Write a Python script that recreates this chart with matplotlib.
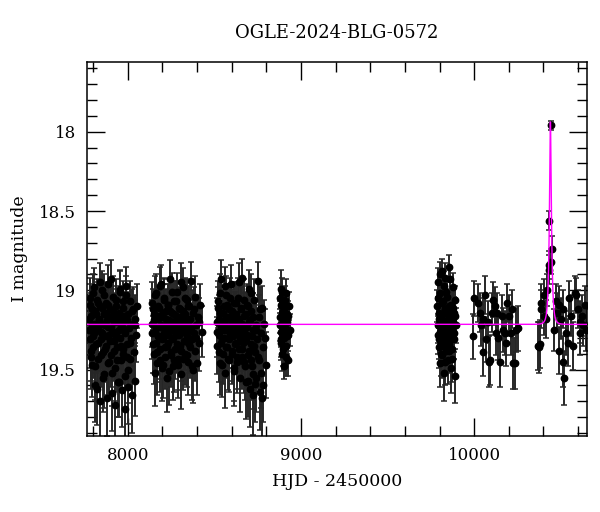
import numpy as np
import matplotlib
matplotlib.use("Agg")
import matplotlib.pyplot as plt
from matplotlib.ticker import MultipleLocator

plt.rcParams['font.family'] = ['DejaVu Serif']

title = "OGLE-2024-BLG-0572"

# season 1
t1 = [7776, 7780, 7783, 7788, 7791, 7795, 7800, 7803, 7807, 7812,
      7815, 7819, 7824, 7827, 7831, 7836, 7839, 7843, 7848, 7851,
      7855, 7860, 7863, 7867, 7872, 7875, 7879, 7884, 7887, 7891,
      7896, 7899, 7903, 7908, 7911, 7915, 7920, 7923, 7927, 7932,
      7935, 7939, 7944, 7947, 7951, 7956, 7959, 7963, 7968, 7971,
      7975, 7980, 7983, 7987, 7992, 7995, 7999, 8004, 8007, 8011,
      8016, 8019, 8023, 8028, 8031, 8035, 8040, 8044, 8049, 8055,
      7778, 7782, 7786, 7790, 7793, 7798, 7802, 7805, 7810, 7814,
      7817, 7822, 7826, 7829, 7834, 7838, 7841, 7846, 7850, 7853,
      7858, 7862, 7865, 7870, 7874, 7877, 7882, 7886, 7889, 7894,
      7898, 7901, 7906, 7910, 7913, 7918, 7922, 7925, 7930, 7934,
      7937, 7942, 7946, 7949, 7954, 7958, 7961, 7966, 7970, 7973,
      7978, 7982, 7985, 7990, 7994, 7997, 8002, 8013, 8026, 8042]
m1 = [19.18, 19.31, 19.05, 19.42, 19.22, 19.12, 19.36, 18.98, 19.27, 19.48,
      19.15, 19.24, 19.62, 19.08, 19.33, 19.19, 18.95, 19.41, 19.26, 19.11,
      19.55, 19.21, 19.03, 19.37, 19.29, 19.14, 19.68, 19.23, 19.09, 19.45,
      19.17, 19.32, 18.93, 19.26, 19.52, 19.13, 19.38, 19.20, 19.72, 19.06,
      19.29, 19.44, 19.16, 19.58, 19.25, 19.01, 19.35, 19.22, 19.63, 19.11,
      19.40, 19.19, 19.75, 19.27, 18.97, 19.34, 19.50, 19.15, 19.24, 19.43,
      19.07, 19.30, 19.66, 19.21, 19.12, 19.39, 19.57, 19.18, 19.28, 19.10,
      19.25, 19.09, 19.38, 19.16, 19.47, 19.02, 19.29, 19.21, 19.60, 19.13,
      19.34, 19.06, 19.24, 19.43, 19.18, 19.70, 19.10, 19.31, 19.27, 19.00,
      19.39, 19.15, 19.53, 19.22, 19.08, 19.35, 19.19, 19.46, 18.96, 19.28,
      19.12, 19.41, 19.23, 19.65, 19.04, 19.32, 19.17, 19.49, 19.26, 19.10,
      19.36, 19.20, 19.58, 19.14, 18.99, 19.30, 19.44, 19.23, 19.07, 19.37,
      19.16, 19.54, 19.25, 19.03, 19.42, 19.19, 19.61, 19.33, 19.13, 19.22]
e1 = [0.15, 0.18, 0.13, 0.20, 0.16, 0.14, 0.19, 0.12, 0.17, 0.21,
      0.14, 0.16, 0.23, 0.13, 0.18, 0.15, 0.12, 0.20, 0.17, 0.14,
      0.22, 0.16, 0.13, 0.19, 0.17, 0.14, 0.24, 0.16, 0.13, 0.20,
      0.15, 0.18, 0.12, 0.17, 0.21, 0.14, 0.19, 0.15, 0.25, 0.13,
      0.17, 0.20, 0.15, 0.22, 0.16, 0.13, 0.19, 0.16, 0.23, 0.14,
      0.19, 0.15, 0.25, 0.17, 0.12, 0.18, 0.21, 0.14, 0.16, 0.20,
      0.13, 0.18, 0.24, 0.16, 0.14, 0.19, 0.22, 0.15, 0.17, 0.14,
      0.16, 0.13, 0.19, 0.14, 0.20, 0.12, 0.17, 0.16, 0.23, 0.14,
      0.18, 0.13, 0.16, 0.20, 0.15, 0.25, 0.13, 0.18, 0.17, 0.12,
      0.19, 0.14, 0.21, 0.16, 0.13, 0.19, 0.15, 0.20, 0.12, 0.17,
      0.14, 0.20, 0.16, 0.24, 0.13, 0.18, 0.15, 0.21, 0.17, 0.13,
      0.19, 0.15, 0.22, 0.14, 0.12, 0.18, 0.20, 0.16, 0.13, 0.19,
      0.15, 0.21, 0.16, 0.12, 0.20, 0.15, 0.23, 0.18, 0.14, 0.16]

# season 2
t2 = [8140, 8143, 8148, 8151, 8155, 8160, 8163, 8167, 8172, 8175,
      8179, 8184, 8187, 8191, 8196, 8199, 8203, 8208, 8211, 8215,
      8220, 8223, 8227, 8232, 8235, 8239, 8244, 8247, 8251, 8256,
      8259, 8263, 8268, 8271, 8275, 8280, 8283, 8287, 8292, 8295,
      8299, 8304, 8307, 8311, 8316, 8319, 8323, 8328, 8331, 8335,
      8340, 8343, 8347, 8352, 8355, 8359, 8364, 8367, 8371, 8376,
      8379, 8383, 8388, 8391, 8395, 8400, 8404, 8410, 8418, 8427,
      8141, 8146, 8150, 8153, 8158, 8162, 8165, 8170, 8174, 8177,
      8182, 8186, 8189, 8194, 8198, 8201, 8206, 8210, 8213, 8218,
      8222, 8225, 8230, 8234, 8237, 8242, 8246, 8249, 8254, 8258,
      8261, 8266, 8270, 8273, 8278, 8282, 8285, 8290, 8294, 8297,
      8302, 8306, 8309, 8314, 8318, 8321, 8326, 8330, 8333, 8338,
      8342, 8345, 8350, 8354, 8357, 8362, 8369, 8381, 8397, 8414]
m2 = [19.21, 19.08, 19.34, 19.15, 19.52, 19.26, 19.02, 19.39, 19.18, 19.29,
      19.11, 19.44, 19.23, 18.96, 19.31, 19.17, 19.47, 19.05, 19.27, 19.36,
      19.13, 19.22, 19.55, 19.09, 19.33, 19.19, 18.93, 19.41, 19.25, 19.14,
      19.30, 19.48, 19.07, 19.24, 19.37, 19.16, 19.01, 19.28, 19.43, 19.20,
      19.12, 19.35, 19.53, 19.18, 19.26, 18.98, 19.32, 19.15, 19.40, 19.23,
      19.06, 19.29, 19.45, 19.19, 19.10, 19.36, 19.24, 18.94, 19.31, 19.50,
      19.14, 19.27, 19.38, 19.04, 19.22, 19.46, 19.17, 19.33, 19.09, 19.26,
      19.27, 19.12, 19.40, 19.19, 19.03, 19.33, 19.24, 19.46, 19.10, 19.29,
      19.16, 19.37, 18.97, 19.22, 19.49, 19.14, 19.30, 19.06, 19.25, 19.42,
      19.18, 19.35, 19.09, 19.28, 19.51, 19.13, 19.23, 19.39, 19.01, 19.31,
      19.20, 19.44, 19.15, 19.26, 19.07, 19.34, 19.21, 19.47, 19.11, 19.28,
      19.17, 18.95, 19.38, 19.24, 19.13, 19.43, 19.19, 19.32, 19.05, 19.27,
      19.22, 19.41, 19.10, 19.34, 19.18, 19.25, 19.48, 19.12, 19.30, 19.20]
e2 = [0.15, 0.13, 0.18, 0.14, 0.21, 0.16, 0.12, 0.19, 0.15, 0.17,
      0.13, 0.20, 0.16, 0.12, 0.18, 0.14, 0.21, 0.13, 0.16, 0.19,
      0.14, 0.15, 0.22, 0.13, 0.18, 0.15, 0.12, 0.20, 0.16, 0.14,
      0.17, 0.21, 0.13, 0.16, 0.19, 0.14, 0.12, 0.17, 0.20, 0.15,
      0.13, 0.18, 0.22, 0.15, 0.16, 0.12, 0.18, 0.14, 0.20, 0.16,
      0.13, 0.17, 0.21, 0.15, 0.13, 0.19, 0.16, 0.12, 0.18, 0.21,
      0.14, 0.17, 0.19, 0.13, 0.15, 0.20, 0.14, 0.18, 0.13, 0.16,
      0.16, 0.13, 0.19, 0.15, 0.12, 0.18, 0.16, 0.20, 0.13, 0.17,
      0.14, 0.19, 0.12, 0.15, 0.21, 0.14, 0.17, 0.13, 0.16, 0.20,
      0.15, 0.18, 0.13, 0.17, 0.21, 0.14, 0.16, 0.19, 0.12, 0.18,
      0.15, 0.20, 0.14, 0.16, 0.13, 0.18, 0.15, 0.21, 0.13, 0.17,
      0.14, 0.12, 0.19, 0.16, 0.14, 0.20, 0.15, 0.18, 0.13, 0.17,
      0.15, 0.20, 0.13, 0.18, 0.15, 0.16, 0.21, 0.14, 0.17, 0.15]

# season 3
t3 = [8515, 8518, 8522, 8527, 8530, 8534, 8539, 8542, 8546, 8551,
      8554, 8558, 8563, 8566, 8570, 8575, 8578, 8582, 8587, 8590,
      8594, 8599, 8602, 8606, 8611, 8614, 8618, 8623, 8626, 8630,
      8635, 8638, 8642, 8647, 8650, 8654, 8659, 8662, 8666, 8671,
      8674, 8678, 8683, 8686, 8690, 8695, 8698, 8702, 8707, 8710,
      8714, 8719, 8722, 8726, 8731, 8734, 8738, 8743, 8746, 8750,
      8755, 8758, 8762, 8767, 8770, 8774, 8779, 8783, 8789, 8796,
      8516, 8520, 8525, 8529, 8532, 8537, 8541, 8544, 8549, 8553,
      8556, 8561, 8565, 8568, 8573, 8577, 8580, 8585, 8589, 8592,
      8597, 8601, 8604, 8609, 8613, 8616, 8621, 8625, 8628, 8633,
      8637, 8640, 8645, 8649, 8652, 8657, 8661, 8664, 8669, 8673,
      8676, 8681, 8685, 8688, 8693, 8697, 8700, 8705, 8709, 8712,
      8717, 8721, 8724, 8729, 8733, 8741, 8752, 8764, 8777, 8792]
m3 = [19.20, 19.35, 19.07, 19.28, 19.46, 19.14, 18.93, 19.31, 19.22, 19.40,
      19.10, 19.25, 19.52, 19.17, 19.03, 19.36, 19.23, 19.44, 19.12, 19.29,
      19.19, 18.96, 19.38, 19.26, 19.08, 19.49, 19.21, 19.33, 19.15, 19.42,
      19.05, 19.27, 19.18, 19.55, 19.30, 19.11, 18.92, 19.37, 19.24, 19.45,
      19.16, 19.32, 19.58, 19.09, 19.28, 19.41, 19.20, 18.99, 19.62, 19.34,
      19.13, 19.48, 19.25, 19.66, 19.06, 19.39, 19.22, 19.55, 19.31, 18.94,
      19.44, 19.17, 19.64, 19.27, 19.52, 19.11, 19.60, 19.36, 19.21, 19.47,
      19.26, 19.11, 19.39, 19.18, 19.02, 19.33, 19.23, 19.47, 19.14, 19.30,
      19.20, 18.97, 19.36, 19.25, 19.09, 19.43, 19.17, 19.31, 19.05, 19.27,
      19.22, 19.40, 19.13, 19.29, 19.51, 19.16, 19.34, 19.08, 19.24, 19.45,
      19.19, 19.37, 18.95, 19.28, 19.12, 19.42, 19.21, 19.33, 19.06, 19.26,
      19.48, 19.15, 19.31, 19.23, 19.57, 19.10, 19.38, 19.19, 19.44, 19.02,
      19.29, 19.53, 19.17, 19.35, 19.59, 19.25, 19.42, 19.12, 19.68, 19.30]
e3 = [0.15, 0.18, 0.13, 0.17, 0.20, 0.14, 0.12, 0.18, 0.15, 0.19,
      0.13, 0.16, 0.22, 0.14, 0.12, 0.18, 0.15, 0.20, 0.14, 0.17,
      0.15, 0.12, 0.19, 0.16, 0.13, 0.21, 0.15, 0.18, 0.14, 0.20,
      0.13, 0.17, 0.15, 0.22, 0.17, 0.14, 0.12, 0.19, 0.16, 0.20,
      0.14, 0.18, 0.23, 0.13, 0.17, 0.20, 0.15, 0.12, 0.24, 0.18,
      0.14, 0.21, 0.16, 0.25, 0.13, 0.19, 0.15, 0.22, 0.18, 0.12,
      0.20, 0.14, 0.24, 0.17, 0.22, 0.14, 0.23, 0.18, 0.15, 0.21,
      0.16, 0.13, 0.19, 0.15, 0.12, 0.18, 0.16, 0.20, 0.14, 0.17,
      0.15, 0.12, 0.19, 0.16, 0.13, 0.20, 0.15, 0.18, 0.13, 0.17,
      0.16, 0.19, 0.14, 0.17, 0.22, 0.15, 0.18, 0.13, 0.16, 0.20,
      0.15, 0.19, 0.12, 0.17, 0.14, 0.20, 0.16, 0.18, 0.13, 0.16,
      0.21, 0.14, 0.18, 0.16, 0.23, 0.13, 0.19, 0.15, 0.20, 0.12,
      0.17, 0.22, 0.15, 0.19, 0.24, 0.16, 0.20, 0.14, 0.25, 0.18]

# season 4 (short)
t4 = [8878, 8880, 8883, 8886, 8888, 8891, 8894, 8897, 8899, 8902,
      8905, 8908, 8911, 8914, 8917, 8920, 8923, 8926, 8930, 8934,
      8879, 8882, 8884, 8887, 8890, 8892, 8895, 8898, 8901, 8904,
      8907, 8910, 8913, 8919, 8928]
m4 = [19.05, 19.22, 18.99, 19.31, 19.14, 19.40, 19.19, 19.08, 19.27, 19.48,
      19.12, 19.24, 19.35, 19.02, 19.20, 19.29, 19.16, 19.44, 19.10, 19.25,
      19.17, 19.33, 19.09, 19.26, 19.01, 19.21, 19.37, 19.13, 19.23, 19.30,
      19.06, 19.19, 19.42, 19.15, 19.28]
e4 = [0.09, 0.10, 0.12, 0.11, 0.09, 0.11, 0.10, 0.09, 0.10, 0.08,
      0.09, 0.10, 0.11, 0.09, 0.10, 0.11, 0.09, 0.10, 0.09, 0.10,
      0.10, 0.11, 0.09, 0.10, 0.09, 0.10, 0.11, 0.09, 0.10, 0.11,
      0.09, 0.10, 0.12, 0.09, 0.10]

# season 5
t5 = [9788, 9790, 9793, 9796, 9798, 9801, 9804, 9806, 9809, 9812,
      9814, 9817, 9820, 9822, 9825, 9828, 9830, 9833, 9836, 9838,
      9841, 9844, 9846, 9849, 9852, 9854, 9857, 9860, 9862, 9865,
      9868, 9870, 9873, 9876, 9878, 9881, 9884, 9887, 9890, 9894,
      9789, 9792, 9795, 9799, 9802, 9805, 9808, 9811, 9815, 9818,
      9821, 9824, 9827, 9831, 9834, 9837, 9840, 9843, 9847, 9850,
      9853, 9856, 9859, 9863, 9866, 9869, 9872, 9877, 9883, 9892]
m5 = [19.10, 19.28, 18.95, 19.36, 19.18, 19.46, 19.02, 19.24, 19.33, 18.88,
      19.15, 19.41, 19.21, 19.07, 19.30, 19.52, 19.12, 18.92, 19.26, 19.38,
      19.19, 19.04, 19.44, 19.23, 19.13, 19.34, 18.85, 19.28, 19.17, 19.49,
      19.09, 19.25, 19.37, 18.98, 19.20, 19.31, 19.14, 19.54, 19.06, 19.22,
      19.22, 19.05, 19.31, 19.14, 18.90, 19.26, 19.40, 19.17, 19.08, 19.35,
      19.24, 18.97, 19.29, 19.12, 19.45, 19.20, 19.01, 19.33, 19.15, 19.27,
      19.38, 19.10, 19.23, 18.93, 19.30, 19.18, 19.43, 19.11, 19.27, 19.16]
e5 = [0.10, 0.12, 0.09, 0.13, 0.11, 0.15, 0.10, 0.11, 0.13, 0.08,
      0.10, 0.14, 0.11, 0.09, 0.12, 0.18, 0.10, 0.09, 0.12, 0.13,
      0.11, 0.09, 0.15, 0.11, 0.10, 0.13, 0.07, 0.12, 0.11, 0.16,
      0.10, 0.12, 0.13, 0.09, 0.11, 0.12, 0.10, 0.17, 0.09, 0.11,
      0.11, 0.10, 0.12, 0.10, 0.08, 0.12, 0.14, 0.11, 0.10, 0.13,
      0.11, 0.09, 0.12, 0.10, 0.15, 0.11, 0.09, 0.13, 0.10, 0.12,
      0.14, 0.10, 0.11, 0.08, 0.12, 0.11, 0.15, 0.10, 0.12, 0.11]

# season 6 (sparse)
t6 = [9994, 9998, 10023, 10033, 10040, 10048, 10052, 10062, 10071, 10080,
      10085, 10094, 10100, 10109, 10119, 10125, 10133, 10140, 10148, 10158,
      10167, 10177, 10185, 10190, 10202, 10210, 10218, 10225, 10235, 10244,
      10254]
m6 = [19.29, 19.05, 19.08, 19.14, 19.22, 19.39, 19.18, 19.03, 19.31, 19.20,
      19.45, 19.44, 19.14, 19.06, 19.10, 19.27, 19.14, 19.30, 19.45, 19.16,
      19.25, 19.27, 19.33, 19.08, 19.16, 19.27, 19.12, 19.46, 19.46, 19.25,
      19.24]
e6 = [0.14, 0.11, 0.12, 0.12, 0.13, 0.15, 0.13, 0.12, 0.14, 0.13,
      0.16, 0.16, 0.12, 0.11, 0.12, 0.14, 0.12, 0.14, 0.16, 0.13,
      0.14, 0.14, 0.15, 0.12, 0.13, 0.14, 0.12, 0.16, 0.16, 0.14,
      0.14]

# season 7 with the event
t7 = [10369, 10373, 10381, 10387, 10388, 10401, 10405, 10415, 10420, 10430,
      10431, 10433, 10441, 10445, 10451, 10460, 10470, 10480, 10490, 10492,
      10500, 10510, 10513, 10520, 10530, 10540, 10546, 10560, 10569, 10580,
      10590, 10600, 10609, 10610, 10620, 10630, 10639, 10646]
m7 = [19.35, 19.36, 19.34, 19.12, 19.08, 19.03, 19.16, 19.18, 19.00, 18.84,
      18.87, 18.56, 17.96, 18.82, 18.74, 19.25, 19.07, 19.14, 19.09, 19.38,
      19.18, 19.12, 19.45, 19.55, 19.27, 19.33, 19.05, 19.16, 19.35, 19.02,
      19.03, 19.12, 19.27, 19.20, 19.16, 19.22, 19.09, 19.25]
e7 = [0.15, 0.16, 0.15, 0.12, 0.12, 0.10, 0.12, 0.12, 0.10, 0.09,
      0.09, 0.06, 0.03, 0.08, 0.08, 0.13, 0.11, 0.12, 0.12, 0.15,
      0.13, 0.12, 0.16, 0.17, 0.14, 0.15, 0.11, 0.13, 0.15, 0.11,
      0.11, 0.12, 0.14, 0.13, 0.13, 0.13, 0.12, 0.13]

# fitted model parameters (Paczynski)
t0 = 10440.0
tE = 12.0
u0 = 0.32
I_base = 19.215

t = np.concatenate([t1, t2, t3, t4, t5, t6, t7])
mag = np.concatenate([m1, m2, m3, m4, m5, m6, m7])
err = np.concatenate([e1, e2, e3, e4, e5, e6, e7])

fig = plt.figure(figsize=(6, 5.12), dpi=100)
ax = fig.add_axes([0.145, 0.148, 0.833, 0.731])

ax.errorbar(t, mag, yerr=err, fmt='o', color='black', ms=4.6,
            ecolor='0.15', elinewidth=1.4, capsize=2.5, capthick=1.1, zorder=2)

tm = np.linspace(7765, 10650, 6000)
u = np.sqrt(u0**2 + ((tm - t0) / tE)**2)
A = (u**2 + 2) / (u * np.sqrt(u**2 + 4))
ax.plot(tm, I_base - 2.5 * np.log10(A), color='#ff00ff', lw=1, zorder=3)

ax.set_xlim(7765, 10650)
ax.set_ylim(19.92, 17.56)

ax.xaxis.set_major_locator(MultipleLocator(1000))
ax.xaxis.set_minor_locator(MultipleLocator(200))
ax.yaxis.set_major_locator(MultipleLocator(0.5))
ax.yaxis.set_minor_locator(MultipleLocator(0.1))
ax.yaxis.set_major_formatter(plt.FuncFormatter(lambda v, p: f"{v:g}"))

ax.tick_params(which='both', direction='in', top=True, right=True,
               labelsize=12, width=1)
ax.tick_params(which='major', length=13, pad=8)
ax.tick_params(which='minor', length=7)
for s in ax.spines.values():
    s.set_linewidth(1.1)

ax.set_xlabel("HJD - 2450000", fontsize=12.5, labelpad=6)
ax.set_ylabel("I magnitude", fontsize=12.5, labelpad=8)
ax.set_title(title, fontsize=13, pad=17)

fig.savefig("out.png", dpi=100)
